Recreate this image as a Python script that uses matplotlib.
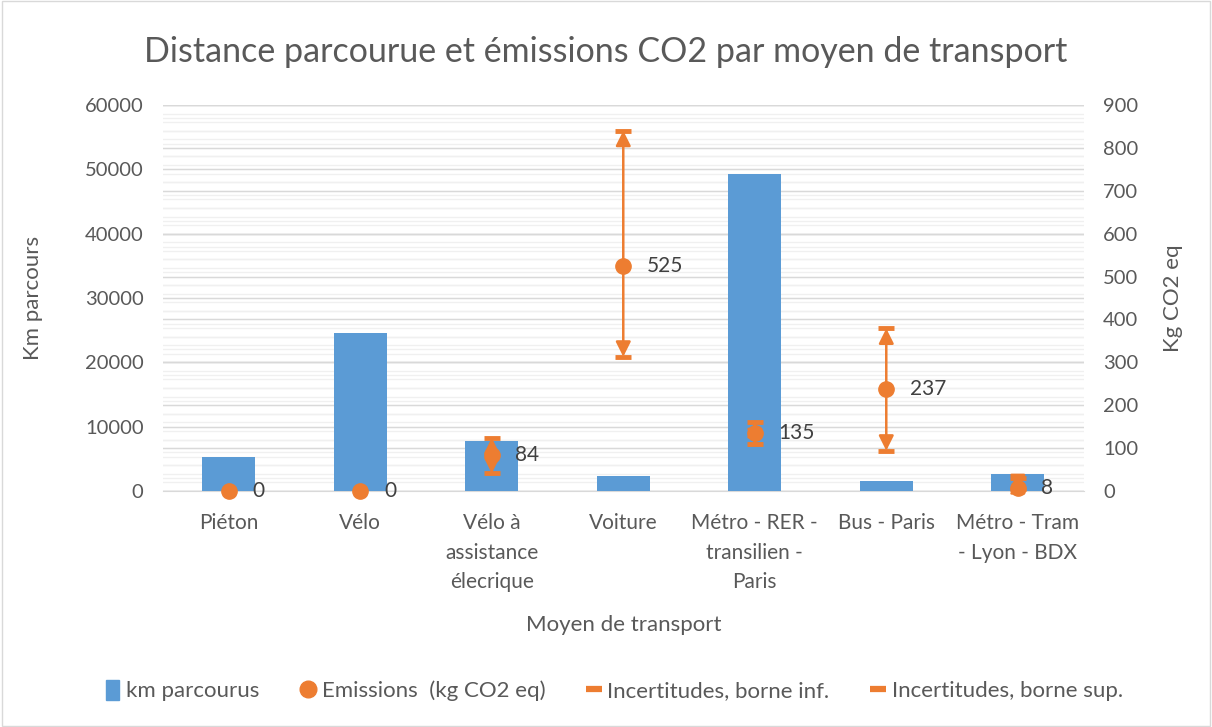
import matplotlib.pyplot as plt
from matplotlib.lines import Line2D
from matplotlib.patches import Patch, Rectangle
import numpy as np

plt.rcParams['font.family'] = ['Lato', 'DejaVu Sans']

categories = ["Piéton", "Vélo", "Vélo à\nassistance\nélecrique", "Voiture",
              "Métro - RER -\ntransilien -\nParis", "Bus - Paris", "Métro - Tram\n- Lyon - BDX"]
km = [5300, 24600, 7700, 2400, 49200, 1500, 2700]
emissions = [0, 0, 84, 525, 135, 237, 8]
borne_inf = [None, None, 41, 313, 109, 94, 2]
borne_sup = [None, None, 124, 840, 161, 379, 30]

blue = "#5B9BD5"
orange = "#ED7D31"
txt = "#595959"

fig = plt.figure(figsize=(12.12, 7.27), dpi=100)
fig.patches.append(Rectangle((0.002, 0.002), 0.996, 0.996, transform=fig.transFigure,
                             fill=False, edgecolor="#d9d9d9", linewidth=1))
ax = fig.add_axes([0.1345, 0.3246, 0.7595, 0.531])
ax2 = ax.twinx()

x = np.arange(len(categories))
ax.bar(x, km, width=0.4, color=blue, zorder=3)
ax.set_xlim(-0.5, len(categories) - 0.5)
ax.set_ylim(0, 60000)
ax2.set_ylim(0, 900)

# gridlines: left major/minor and right major/minor, all drawn behind the bars
ax.set_yticks(np.arange(0, 60001, 10000))
scale = 60000 / 900
for v in np.arange(0, 60001, 2000):
    ax.axhline(v, color="#f0f0f0", linewidth=1, zorder=0)
for v in np.arange(0, 901, 20):
    ax.axhline(v * scale, color="#f0f0f0", linewidth=1, zorder=0)
for v in np.arange(0, 60001, 10000):
    ax.axhline(v, color="#d9d9d9", linewidth=1, zorder=1)
for v in np.arange(0, 901, 100):
    ax.axhline(v * scale, color="#d9d9d9", linewidth=1, zorder=1)

# error bars with arrow heads and caps
for i in range(len(categories)):
    if borne_inf[i] is None:
        continue
    for end in (borne_inf[i], borne_sup[i]):
        ax2.annotate("", xy=(x[i], end), xytext=(x[i], emissions[i]),
                     arrowprops=dict(arrowstyle="-|>,head_length=0.9,head_width=0.45",
                                     color=orange, lw=1.8, shrinkA=0, shrinkB=0),
                     zorder=4)
        ax2.plot(x[i], end, marker="_", color=orange, ms=12, mew=3.5, zorder=4)

ax2.plot(x, emissions, "o", color=orange, ms=11, zorder=5, clip_on=False)
for i, e in enumerate(emissions):
    ax2.annotate(str(e), (x[i], e), xytext=(17, 0), textcoords="offset points",
                 va="center", ha="left", fontsize=15, color="#404040")

for a in (ax, ax2):
    for s in a.spines.values():
        s.set_visible(False)
    a.tick_params(length=0, labelsize=14.5, labelcolor=txt)
ax.spines["bottom"].set_visible(True)
ax.spines["bottom"].set_color("#d9d9d9")
ax.set_xticks(x)
ax.set_xticklabels(categories, linespacing=1.6, fontsize=15)
ax.tick_params(axis="x", pad=16)
ax.tick_params(axis="y", pad=14)
ax2.tick_params(axis="y", pad=14)
ax2.set_yticks(np.arange(0, 901, 100))

ax.set_xlabel("Moyen de transport", fontsize=16, color=txt, labelpad=16)
ax.set_ylabel("Km parcours", fontsize=16, color=txt, labelpad=30)
ax2.set_ylabel("Kg CO2 eq", fontsize=16, color=txt, labelpad=18)
fig.suptitle("Distance parcourue et émissions CO2 par moyen de transport",
             fontsize=24.5, color=txt, y=0.95)

handles = [Patch(color=blue),
           Line2D([], [], marker="o", color=orange, linestyle="none", ms=12),
           Line2D([], [], marker="_", color=orange, linestyle="none", ms=12, mew=4.5),
           Line2D([], [], marker="_", color=orange, linestyle="none", ms=12, mew=4.5)]
labels = ["km parcourus", "Emissions  (kg CO2 eq)", "Incertitudes, borne inf.", "Incertitudes, borne sup."]
fig.legend(handles, labels, loc="center", bbox_to_anchor=(0.507, 0.05), ncol=4, frameon=False,
           fontsize=16, labelcolor=txt, handlelength=0.6, handleheight=1.0,
           handletextpad=0.3, columnspacing=1.9)

fig.savefig("out.png", dpi=100)
